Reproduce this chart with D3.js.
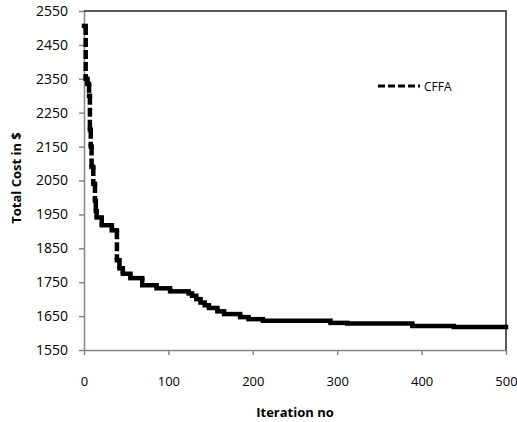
<!DOCTYPE html>
<html>
<head>
<meta charset="utf-8">
<script src="https://cdn.jsdelivr.net/npm/d3@7"></script>
<style>
  body { margin: 0; background: #fff; }
  text { font-family: "Open Sans", "Liberation Sans", sans-serif; }
</style>
</head>
<body>
<div id="chart"></div>
<script>
var width = 517;
var height = 422;
var margin = {top: 11, right: 11, bottom: 72, left: 84};
var lineColor = '#000';
var axisColor = '#868686';

// best cost so far, as step points: value holds from that iteration on
var iterations = [0, 2, 4, 6, 7, 8, 9, 11, 13, 14, 15, 21, 33, 39, 42, 46, 55, 69, 86, 102, 124, 128, 133, 138, 143, 148, 158, 166, 185, 195, 212, 292, 312, 389, 438, 500];
var cost = [2506, 2350, 2335, 2300, 2200, 2150, 2090, 2040, 1990, 1960, 1941, 1918, 1903, 1815, 1791, 1775, 1762, 1741, 1732, 1723, 1717, 1710, 1700, 1690, 1682, 1674, 1664, 1656, 1647, 1641, 1636, 1630, 1628, 1621, 1618, 1618];
var seriesName = 'CFFA';

var xTicks = [0, 100, 200, 300, 400, 500];
var yTicks = [1550, 1650, 1750, 1850, 1950, 2050, 2150, 2250, 2350, 2450, 2550];
var xLabel = 'Iteration no';
var yLabel = 'Total Cost in $';

var svg = d3.select('#chart').append('svg')
      .attr('width', width)
      .attr('height', height);

var xScale = d3.scaleLinear()
      .domain([0, 500])
      .range([margin.left, width - margin.right]);
var yScale = d3.scaleLinear()
      .domain([1550, 2550])
      .range([height - margin.bottom, margin.top]);

// axes
var xAxis = d3.axisBottom(xScale)
      .tickValues(xTicks)
      .tickSizeInner(5)
      .tickSizeOuter(0)
      .tickPadding(22)
      .tickFormat(d3.format('d'));
var yAxis = d3.axisLeft(yScale)
      .tickValues(yTicks)
      .tickSizeInner(5)
      .tickSizeOuter(0)
      .tickPadding(11)
      .tickFormat(d3.format('d'));

var xAxisGroup = svg.append('g')
      .attr('transform', 'translate(0,' + (height - margin.bottom) + ')')
      .call(xAxis);
var yAxisGroup = svg.append('g')
      .attr('transform', 'translate(' + margin.left + ',0)')
      .call(yAxis);

[xAxisGroup, yAxisGroup].forEach(function(g) {
      g.select('.domain').attr('stroke', axisColor).attr('stroke-width', 1.5);
      g.selectAll('.tick line').attr('stroke', axisColor).attr('stroke-width', 1.5);
      g.selectAll('.tick text').attr('fill', '#000');
});
xAxisGroup.selectAll('.tick text').style('font-size', '13px');
yAxisGroup.selectAll('.tick text').style('font-size', '14px');

// top and right frame
svg.append('path')
      .attr('d', 'M' + xScale(0) + ',' + yScale(2550) + 'H' + xScale(500) + 'V' + yScale(1550))
      .attr('fill', 'none')
      .attr('stroke', '#222')
      .attr('stroke-width', 1.5);

// axis titles
svg.append('text')
      .attr('x', (xScale(0) + xScale(500)) / 2)
      .attr('y', 412)
      .attr('text-anchor', 'middle')
      .attr('dominant-baseline', 'central')
      .style('font-size', '13px')
      .style('font-weight', 'bold')
      .text(xLabel);

svg.append('text')
      .attr('transform', 'translate(16,178) rotate(-90)')
      .attr('text-anchor', 'middle')
      .attr('dominant-baseline', 'central')
      .style('font-size', '13px')
      .style('font-weight', 'bold')
      .text(yLabel);

// the curve: flat runs drawn solid, drops drawn dashed (dash restarts each drop)
var plot = svg.append('g');
var steps = iterations.slice(0, -1).map(function(it, i) {
      return {x0: it, x1: iterations[i + 1], y0: cost[i], y1: cost[i + 1]};
});

plot.selectAll('line.run')
      .data(steps)
      .enter()
      .append('line')
            .attr('class', 'run')
            .attr('x1', d => xScale(d.x0))
            .attr('x2', d => xScale(d.x1))
            .attr('y1', d => yScale(d.y0))
            .attr('y2', d => yScale(d.y0))
            .attr('stroke', lineColor)
            .attr('stroke-width', 4.5)
            .attr('stroke-linecap', 'square');

plot.selectAll('line.drop')
      .data(steps)
      .enter()
      .append('line')
            .attr('class', 'drop')
            .attr('x1', d => xScale(d.x1))
            .attr('x2', d => xScale(d.x1))
            .attr('y1', d => yScale(d.y0))
            .attr('y2', d => yScale(d.y1))
            .attr('stroke', lineColor)
            .attr('stroke-width', 4.5)
            .attr('stroke-dasharray', '9,3');

// legend
var legend = svg.append('g').attr('transform', 'translate(378,86)');
legend.append('line')
      .attr('x1', 0)
      .attr('x2', 42)
      .attr('stroke', lineColor)
      .attr('stroke-width', 3)
      .attr('stroke-dasharray', '7,3');
legend.append('text')
      .attr('x', 46)
      .attr('dominant-baseline', 'central')
      .style('font-size', '12px')
      .text(seriesName);
</script>
</body>
</html>
